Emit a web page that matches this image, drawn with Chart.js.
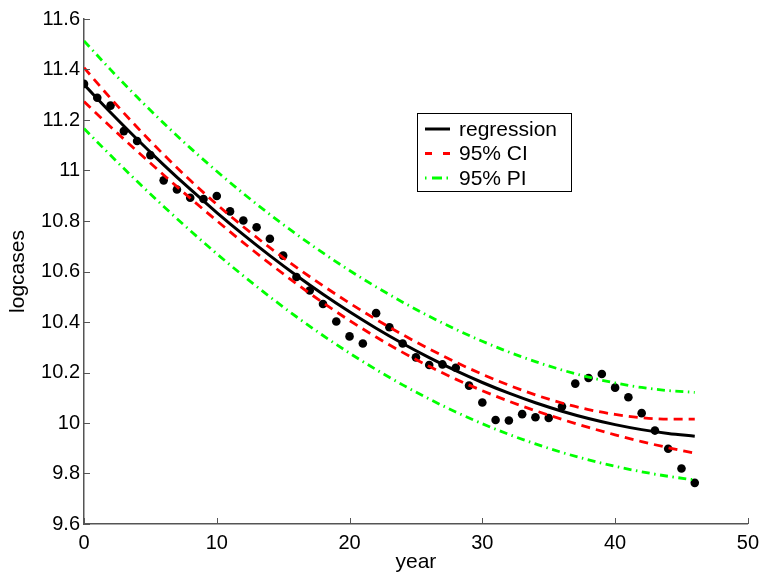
<!DOCTYPE html>
<html>
<head>
<meta charset="utf-8">
<script src="https://cdn.jsdelivr.net/npm/chart.js@4.4.1/dist/chart.umd.min.js"></script>
<style>
html,body{margin:0;padding:0;background:#ffffff;}
canvas{display:block;}
</style>
</head>
<body>
<canvas id="c" width="766" height="577"></canvas>
<script>
// ---- data ----
const years = [0,1,2,3,4,5,6,7,8,9,10,11,12,13,14,15,16,17,18,19,20,21,22,23,24,25,26,27,28,29,30,31,32,33,34,35,36,37,38,39,40,41,42,43,44,45,46];
const logcases = [11.343,11.288,11.257,11.156,11.117,11.061,10.961,10.925,10.892,10.887,10.899,10.838,10.802,10.775,10.730,10.663,10.578,10.525,10.471,10.402,10.343,10.315,10.435,10.379,10.315,10.260,10.230,10.232,10.219,10.148,10.081,10.012,10.010,10.035,10.023,10.020,10.065,10.156,10.178,10.194,10.140,10.102,10.039,9.970,9.898,9.820,9.763];

const fitYears = [0,2,4,6,8,10,12,14,16,18,20,22,24,26,28,30,32,34,36,38,40,42,44,46];
const regression = [11.3400,11.2297,11.1239,11.0226,10.9258,10.8336,10.7459,10.6627,10.5841,10.5100,10.4404,10.3753,10.3148,10.2588,10.2073,10.1604,10.1180,10.0801,10.0467,10.0179,9.9936,9.9738,9.9586,9.9479];
const ciUpper = [11.4071,11.2861,11.1713,11.0629,10.9611,10.8660,10.7773,10.6943,10.6166,10.5436,10.4749,10.4103,10.3498,10.2933,10.2409,10.1929,10.1496,10.1115,10.0791,10.0532,10.0339,10.0212,10.0150,10.0150];
const ciLower = [11.2729,11.1733,11.0765,10.9823,10.8905,10.8012,10.7145,10.6311,10.5516,10.4764,10.4059,10.3403,10.2798,10.2243,10.1737,10.1279,10.0864,10.0487,10.0143,9.9826,9.9533,9.9264,9.9022,9.8808];
const piUpper = [11.5135,11.3994,11.2908,11.1876,11.0896,10.9969,10.9089,10.8258,10.7474,10.6735,10.6041,10.5391,10.4786,10.4225,10.3708,10.3237,10.2811,10.2431,10.2100,10.1817,10.1586,10.1407,10.1283,10.1214];
const piLower = [11.1665,11.0600,10.9570,10.8576,10.7620,10.6703,10.5829,10.4996,10.4208,10.3465,10.2767,10.2115,10.1510,10.0951,10.0438,9.9971,9.9549,9.9171,9.8834,9.8541,9.8286,9.8069,9.7889,9.7744];

const xTicks = [0,10,20,30,40,50];
const yTicks = [9.6,9.8,10,10.2,10.4,10.6,10.8,11,11.2,11.4,11.6];
const yTickLabels = ['9.6','9.8','10','10.2','10.4','10.6','10.8','11','11.2','11.4','11.6'];
const xTitle = 'year';
const yTitle = 'logcases';
const legendLabels = ['regression','95% CI','95% PI'];

// ---- styling ----
const FONT = "'Liberation Sans', Arial, Helvetica, sans-serif";
const AXIS = '#555555';
const RED_DASH = [9,6];
const GREEN_DASHDOT = [8,4.5,1.5,4.5];

const toPts = (xs, ys) => xs.map((x,i) => ({x: x, y: ys[i]}));

const lineDs = (label, ys, color, dash, width) => ({
  label: label,
  data: toPts(fitYears, ys),
  showLine: true,
  borderColor: color,
  backgroundColor: color,
  borderWidth: width,
  borderDash: dash,
  pointRadius: 0,
  pointHoverRadius: 0,
  fill: false,
  tension: 0.4,
  cubicInterpolationMode: 'monotone'
});

const overlay = {
  id: 'overlay',
  afterDatasetsDraw(chart) {
    const {ctx, chartArea: a, scales: {x, y}} = chart;
    ctx.save();
    // inward tick marks
    ctx.strokeStyle = AXIS;
    ctx.lineWidth = 1;
    ctx.setLineDash([]);
    xTicks.forEach(v => {
      const px = Math.round(x.getPixelForValue(v)) + 0.5;
      ctx.beginPath(); ctx.moveTo(px, a.bottom); ctx.lineTo(px, a.bottom - 6); ctx.stroke();
    });
    yTicks.forEach(v => {
      const py = Math.round(y.getPixelForValue(v)) + 0.5;
      ctx.beginPath(); ctx.moveTo(a.left, py); ctx.lineTo(a.left + 6, py); ctx.stroke();
    });
    // legend box
    const bx = 417.5, by = 113.5, bw = 154, bh = 78;
    ctx.fillStyle = '#ffffff';
    ctx.fillRect(bx, by, bw, bh);
    ctx.strokeStyle = '#000000';
    ctx.lineWidth = 1;
    ctx.strokeRect(bx, by, bw, bh);
    const rows = [129, 153.5, 178];
    const samples = [
      {color:'#000000', dash:[], width:3},
      {color:'#ff0000', dash:[7,11], width:3},
      {color:'#00ff00', dash:[1.5,5.5,10,4.5,1.5,20], width:3}
    ];
    ctx.font = "21px " + FONT;
    ctx.textBaseline = 'middle';
    ctx.textAlign = 'left';
    legendLabels.forEach((lab, i) => {
      const s = samples[i];
      ctx.strokeStyle = s.color;
      ctx.lineWidth = s.width;
      ctx.setLineDash(s.dash);
      ctx.beginPath(); ctx.moveTo(425, rows[i]); ctx.lineTo(450, rows[i]); ctx.stroke();
      ctx.setLineDash([]);
      ctx.fillStyle = '#000000';
      ctx.fillText(lab, 459, rows[i] + 1);
    });
    ctx.restore();
  }
};

new Chart(document.getElementById('c'), {
  type: 'scatter',
  data: {
    datasets: [
      lineDs('regression', regression, '#000000', [], 3),
      lineDs('95% CI upper', ciUpper, '#ff0000', RED_DASH, 2.8),
      lineDs('95% CI lower', ciLower, '#ff0000', RED_DASH, 2.8),
      lineDs('95% PI upper', piUpper, '#00ff00', GREEN_DASHDOT, 2.8),
      lineDs('95% PI lower', piLower, '#00ff00', GREEN_DASHDOT, 2.8),
      {
        label: 'logcases',
        data: toPts(years, logcases),
        showLine: false,
        pointRadius: 4.3,
        pointBackgroundColor: '#000000',
        pointBorderColor: '#000000',
        pointBorderWidth: 0
      }
    ]
  },
  options: {
    responsive: false,
    animation: false,
    devicePixelRatio: 1,
    layout: {padding: {top: 19, right: 13, left: 0, bottom: 0}},
    plugins: {
      legend: {display: false},
      tooltip: {enabled: false},
      title: {display: false}
    },
    scales: {
      x: {
        type: 'linear',
        min: 0, max: 50,
        afterBuildTicks: s => { s.ticks = xTicks.map(v => ({value: v})); },
        afterFit: s => { s.height = 53; },
        grid: {display: false, drawTicks: false},
        border: {display: true, color: AXIS, width: 1.5},
        ticks: {
          color: '#000000',
          padding: 7,
          maxRotation: 0,
          font: {family: FONT, size: 20},
          callback: v => String(v)
        },
        title: {display: true, text: xTitle, color: '#000000', font: {family: FONT, size: 21}, padding: {top: 0, bottom: 2}}
      },
      y: {
        type: 'linear',
        min: 9.6, max: 11.6,
        afterBuildTicks: s => { s.ticks = yTicks.map(v => ({value: v})); },
        afterFit: s => { s.width = 84; },
        grid: {display: false, drawTicks: false},
        border: {display: true, color: AXIS, width: 1.5},
        ticks: {
          color: '#000000',
          padding: 4,
          font: {family: FONT, size: 20},
          callback: (v, i) => yTickLabels[i]
        },
        title: {display: true, text: yTitle, color: '#000000', font: {family: FONT, size: 21}, padding: {top: 6, bottom: 0}}
      }
    }
  },
  plugins: [overlay]
});
</script>
</body>
</html>
